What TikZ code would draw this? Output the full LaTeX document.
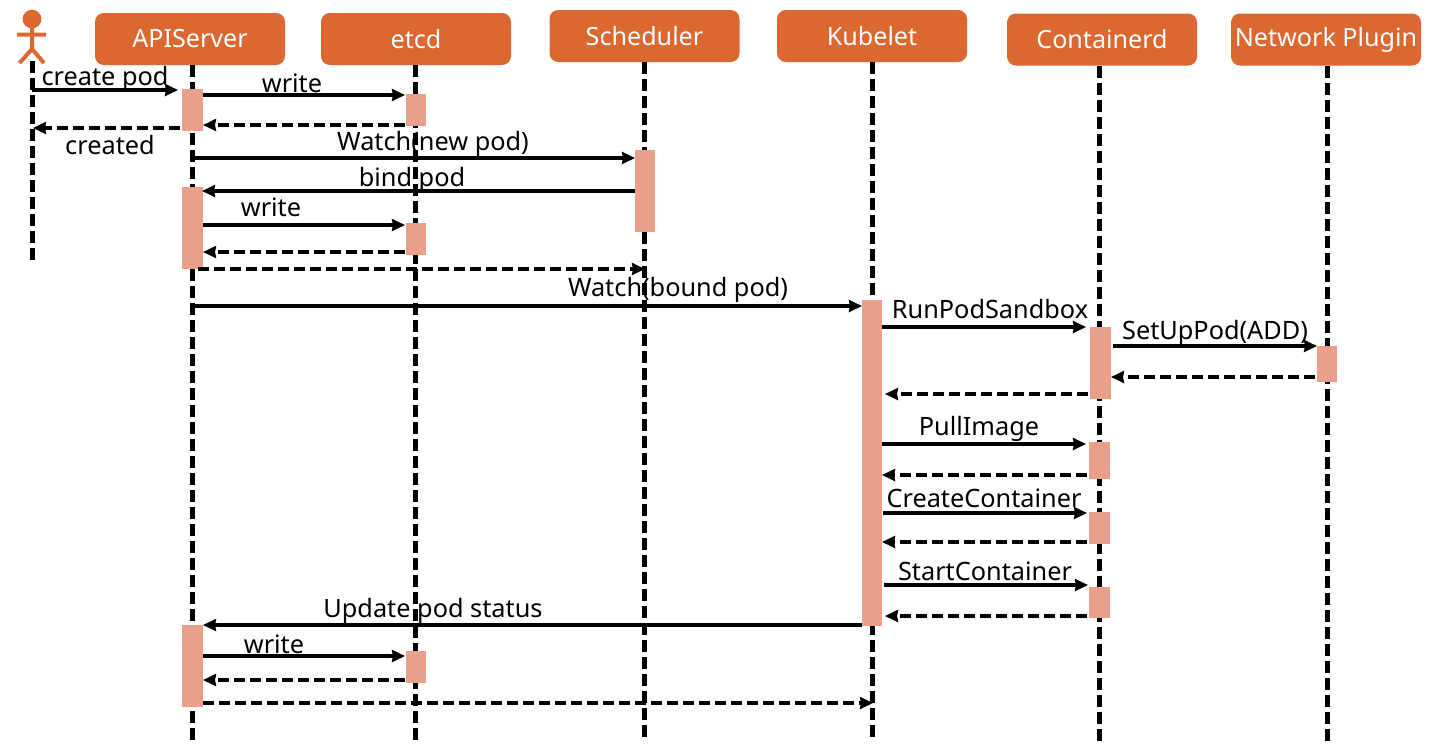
\documentclass[tikz,border=0pt]{standalone}
\usepackage{fontspec}
\setmainfont{Noto Sans}
\usetikzlibrary{arrows.meta}
\definecolor{headcol}{HTML}{DA6830}
\definecolor{barcol}{HTML}{E8A08C}
\def\px{0.02cm}
\tikzset{
  head/.style={draw=none, fill=headcol, text=white, rounded corners=5pt, inner sep=0pt, minimum width=190*\px, minimum height=52*\px, font=\fontsize{14.3pt}{16pt}\selectfont},
  bar/.style={fill=barcol, inner sep=0pt},
  life/.style={black, line width=5*\px, dash pattern=on 12*\px off 5*\px},
  msg/.style={black, line width=3.6*\px, -{Stealth[length=13*\px, width=12*\px, inset=1*\px]}},
  ret/.style={msg, dash pattern=on 11*\px off 5*\px},
  lab/.style={inner sep=0pt, font=\fontsize{14.4pt}{16pt}\selectfont},
}
\begin{document}
\begin{tikzpicture}[x=0.02cm, y=-0.02cm]
\useasboundingbox (0,0) rectangle (1430,755);
% participants
\node[head] (api) at (190,39) {APIServer};
\node[head] (etcd) at (416,39) {etcd};
\node[head] (sched) at (644.5,36) {Scheduler};
\node[head] (kubelet) at (872,36) {Kubelet};
\node[head] (containerd) at (1102,39.5) {Containerd};
\node[head] (plugin) at (1326,39.5) {Network Plugin};
% actor
\draw[headcol, fill=headcol] (32,19) circle (9);
\draw[headcol, line width=4*\px] (32,28) -- (32,49) (17,34.5) -- (46,34.5) (19.5,63) -- (32,49) -- (44,63);
% lifelines
\coordinate (actorTop) at (32,61);
\coordinate (actorEnd) at (32,262);
\draw[life] (actorTop) -- (actorEnd);
\foreach \name/\x in {api/192,etcd/415.5,sched/644,kubelet/872,containerd/1099,plugin/1327}
  \draw[life] (\x,0 |- \name.south) -- (\x,741);
% activation bars
\foreach \name/\x/\y/\w/\h in {apiA/192.5/110/21/42,etcdA/416/110/20/32,schedA/645/191/20/82,apiB/192.5/228/21/82,etcdB/416/239/20/32,
  kubeA/872/463/20/326,contA/1100.5/363/21/72,netA/1327/364/20/36,contB/1099.5/460.5/21/37,contC/1099.5/528/21/32,contD/1099.5/602.5/21/31,
  apiC/192.5/666/21/82,etcdC/416/667/20/32}
  \node[bar, minimum width=\w*\px, minimum height=\h*\px] (\name) at (\x,\y) {};
% message ends
\foreach \name/\x/\y in {a1/32/90,b1/178/90,a2/203/95,b2/405/95,a3/405/125,b3/203/125,a4/180/128,b4/33/128,
  a5/191/158,b5/635/158,a6/635/191,b6/202/191,a7/203/225,b7/405/225,a8/405/252,b8/203/252,a9/198/269,b9/645/269,
  a10/191/306,b10/862/306,a11/882/327,b11/1086/327,a12/1113/346,b12/1317/346,a13/1315/377,b13/1111/377,a14/1088/394,b14/885/394,
  a15/882/444,b15/1086/444,a16/1087/475,b16/882/475,a17/883/513,b17/1087/513,a18/1087/542,b18/882/542,a19/884/585,b19/1088/585,
  a20/1087/616,b20/885/616,a21/862/625,b21/203/625,a22/203/656,b22/405/656,a23/405/680,b23/203/680,a24/203/703,b24/873/703}
  \coordinate (\name) at (\x,\y);
% messages
\foreach \i in {1,2,5,6,7,10,11,12,15,17,19,21,22}
  \draw[msg] (a\i) -- (b\i);
\foreach \i in {3,4,8,9,13,14,16,18,20,23,24}
  \draw[ret] (a\i) -- (b\i);
% labels
\node[lab] (l1) at (105,79) {create pod};
\node[lab] (l2) at (292,83) {write};
\node[lab] (l4) at (110,145) {created};
\node[lab] (l5) at (433,143.5) {Watch(new pod)};
\node[lab] (l6) at (412,180) {bind pod};
\node[lab] (l7) at (271,207) {write};
\node[lab] (l10) at (678,290) {Watch(bound pod)};
\node[lab] (l11) at (990,309) {RunPodSandbox};
\node[lab] (l12) at (1215,333) {SetUpPod(ADD)};
\node[lab] (l15) at (979,429) {PullImage};
\node[lab] (l17) at (984,498) {CreateContainer};
\node[lab] (l19) at (985,571) {StartContainer};
\node[lab] (l21) at (433,611) {Update pod status};
\node[lab] (l22) at (274,644) {write};
\end{tikzpicture}
\end{document}
